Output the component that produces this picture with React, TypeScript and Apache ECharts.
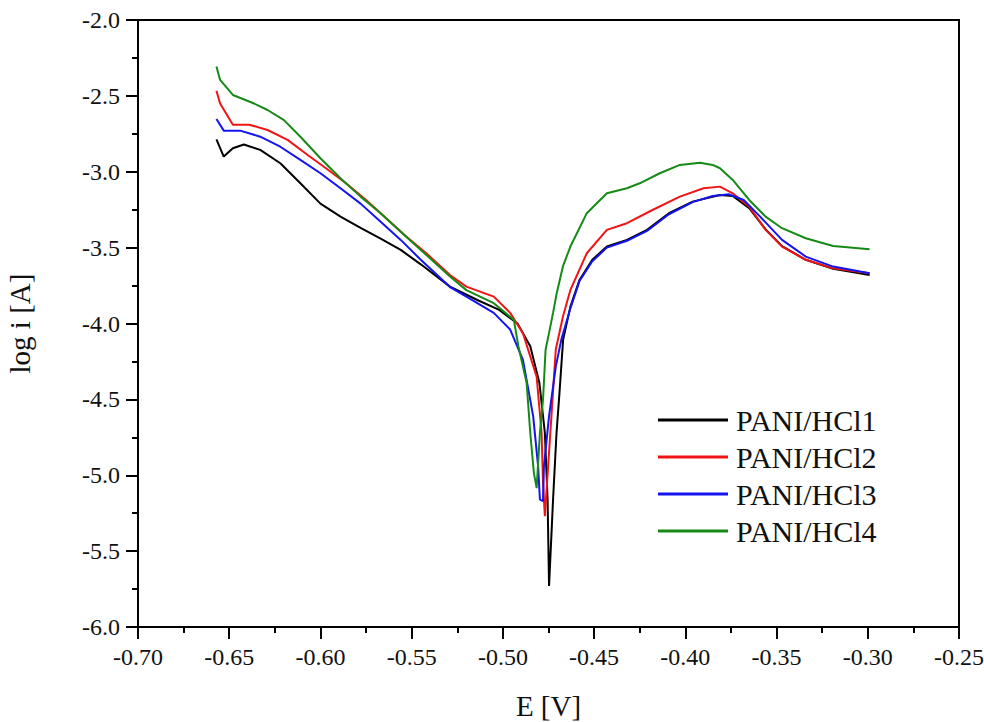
import React, { useEffect, useRef } from "react";
import * as echarts from "echarts";

const seriesNames = ["PANI/HCl1", "PANI/HCl2", "PANI/HCl3", "PANI/HCl4"];
const seriesColors = ["#000000", "#f01414", "#1414f0", "#168a16"];

const e1 = [-0.657, -0.653, -0.648, -0.642, -0.633, -0.622, -0.611, -0.600, -0.589, -0.578, -0.567, -0.556, -0.545, -0.529, -0.514, -0.502, -0.492, -0.485, -0.480, -0.477, -0.4755, -0.4747, -0.4725, -0.4706, -0.469, -0.467, -0.463, -0.458, -0.451, -0.443, -0.432, -0.421, -0.409, -0.396, -0.381, -0.374, -0.365, -0.356, -0.347, -0.334, -0.319, -0.299];
const i1 = [-2.786, -2.90, -2.845, -2.82, -2.856, -2.944, -3.076, -3.21, -3.296, -3.37, -3.44, -3.515, -3.61, -3.757, -3.845, -3.91, -4.0, -4.15, -4.39, -4.72, -5.16, -5.73, -5.16, -4.72, -4.46, -4.108, -3.889, -3.713, -3.58, -3.493, -3.449, -3.383, -3.273, -3.197, -3.153, -3.16, -3.24, -3.38, -3.49, -3.58, -3.64, -3.68];

const e2 = [-0.657, -0.655, -0.648, -0.639, -0.629, -0.618, -0.607, -0.597, -0.586, -0.575, -0.564, -0.553, -0.542, -0.529, -0.520, -0.505, -0.496, -0.489, -0.4815, -0.4788, -0.478, -0.477, -0.4752, -0.4734, -0.471, -0.467, -0.463, -0.454, -0.443, -0.432, -0.418, -0.403, -0.390, -0.381, -0.374, -0.365, -0.356, -0.347, -0.334, -0.319, -0.299];
const i2 = [-2.466, -2.55, -2.69, -2.69, -2.725, -2.79, -2.89, -2.977, -3.076, -3.186, -3.306, -3.427, -3.537, -3.68, -3.757, -3.823, -3.93, -4.064, -4.35, -4.72, -5.05, -5.27, -4.94, -4.61, -4.17, -3.95, -3.779, -3.537, -3.383, -3.339, -3.252, -3.164, -3.109, -3.098, -3.142, -3.23, -3.383, -3.493, -3.58, -3.636, -3.669];

const e3 = [-0.657, -0.653, -0.644, -0.633, -0.622, -0.611, -0.600, -0.589, -0.578, -0.567, -0.556, -0.545, -0.529, -0.520, -0.505, -0.496, -0.489, -0.4834, -0.4807, -0.4797, -0.478, -0.4775, -0.4747, -0.471, -0.468, -0.463, -0.458, -0.451, -0.443, -0.432, -0.421, -0.409, -0.396, -0.385, -0.376, -0.368, -0.359, -0.347, -0.334, -0.319, -0.299];
const i3 = [-2.652, -2.729, -2.729, -2.769, -2.835, -2.922, -3.01, -3.109, -3.21, -3.33, -3.449, -3.58, -3.76, -3.823, -3.93, -4.04, -4.24, -4.61, -4.94, -5.16, -5.17, -4.94, -4.61, -4.284, -4.108, -3.90, -3.72, -3.59, -3.50, -3.455, -3.39, -3.28, -3.20, -3.16, -3.149, -3.186, -3.296, -3.449, -3.559, -3.625, -3.669];

const e4 = [-0.657, -0.655, -0.648, -0.637, -0.629, -0.620, -0.611, -0.600, -0.589, -0.578, -0.567, -0.556, -0.545, -0.529, -0.520, -0.505, -0.494, -0.4915, -0.487, -0.485, -0.483, -0.4815, -0.4797, -0.478, -0.4766, -0.4745, -0.4725, -0.4705, -0.467, -0.463, -0.454, -0.443, -0.432, -0.425, -0.414, -0.403, -0.392, -0.385, -0.381, -0.374, -0.365, -0.356, -0.347, -0.334, -0.319, -0.299];
const i4 = [-2.307, -2.395, -2.494, -2.547, -2.593, -2.66, -2.769, -2.911, -3.043, -3.164, -3.273, -3.395, -3.515, -3.69, -3.78, -3.866, -3.976, -4.15, -4.39, -4.72, -4.986, -5.085, -4.72, -4.50, -4.174, -4.05, -3.93, -3.80, -3.62, -3.493, -3.273, -3.142, -3.109, -3.076, -3.01, -2.955, -2.94, -2.955, -2.977, -3.054, -3.186, -3.296, -3.372, -3.438, -3.489, -3.51];

const potentials = [e1, e2, e3, e4];
const currents = [i1, i2, i3, i4];

const FONT = "'Liberation Serif', 'Times New Roman', serif";

export default function App() {
  const ref = useRef<HTMLDivElement>(null);
  useEffect(() => {
    document.body.style.margin = "0";
    if (!ref.current) return;
    const chart = echarts.init(ref.current, null, { renderer: "svg" });
    chart.setOption({
      animation: false,
      backgroundColor: "#ffffff",
      grid: {
        left: 138,
        top: 20,
        width: 821,
        height: 607,
        containLabel: false,
        outerBoundsMode: "none",
        show: true,
        borderColor: "#000",
        borderWidth: 2,
      },
      legend: {
        orient: "vertical",
        left: 653,
        top: 400,
        icon: "rect",
        itemWidth: 70,
        itemHeight: 3,
        itemGap: 7,
        textStyle: { fontFamily: FONT, fontSize: 30, color: "#111", lineHeight: 30, padding: [0, 0, 0, 3] },
        data: seriesNames,
      },
      xAxis: {
        type: "value",
        min: -0.7,
        max: -0.25,
        interval: 0.05,
        name: "E [V]",
        nameLocation: "middle",
        nameGap: 64,
        nameTextStyle: { fontFamily: FONT, fontSize: 29, color: "#111" },
        axisLine: { show: true, lineStyle: { color: "#000", width: 2 } },
        axisTick: { show: true, inside: false, length: 12, lineStyle: { color: "#000", width: 2 } },
        minorTick: { show: true, splitNumber: 2, length: 6, lineStyle: { color: "#000", width: 2 } },
        splitLine: { show: false },
        axisLabel: {
          margin: 18,
          fontFamily: FONT,
          fontSize: 24,
          color: "#111",
          formatter: (v: number) => v.toFixed(2),
        },
      },
      yAxis: {
        type: "value",
        min: -6,
        max: -2,
        interval: 0.5,
        name: "log i [A]",
        nameLocation: "middle",
        nameGap: 104,
        nameTextStyle: { fontFamily: FONT, fontSize: 29, color: "#111" },
        axisLine: { show: true, lineStyle: { color: "#000", width: 2 } },
        axisTick: { show: true, inside: false, length: 12, lineStyle: { color: "#000", width: 2 } },
        minorTick: { show: true, splitNumber: 2, length: 6, lineStyle: { color: "#000", width: 2 } },
        splitLine: { show: false },
        axisLabel: {
          margin: 18,
          fontFamily: FONT,
          fontSize: 24,
          color: "#111",
          formatter: (v: number) => v.toFixed(1),
        },
      },
      series: seriesNames.map((name, k) => ({
        name,
        type: "line",
        symbol: "none",
        smooth: false,
        color: seriesColors[k],
        lineStyle: { color: seriesColors[k], width: 2 },
        data: potentials[k].map((x, j) => [x, currents[k][j]]),
      })),
    });
    return () => chart.dispose();
  }, []);
  return <div ref={ref} style={{ width: 984, height: 722 }} />;
}
